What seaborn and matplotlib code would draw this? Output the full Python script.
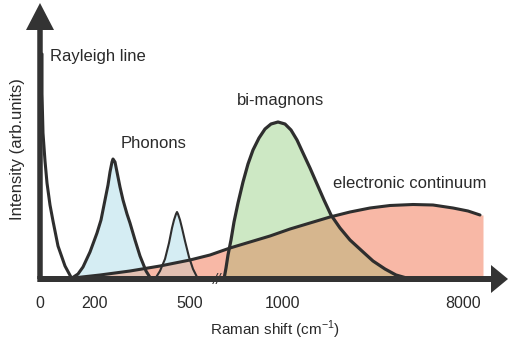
import numpy as np
import matplotlib
matplotlib.use("Agg")
import matplotlib.pyplot as plt
from matplotlib.patches import Polygon
import seaborn as sns

# Positions along the broken Raman-shift axis and the schematic intensities (arb. units)
rayleigh_x = [2, 2, 3, 5, 7, 10, 13, 18, 25, 32]
rayleigh_y = [225, 185, 146, 118, 96, 74, 58, 33, 13, 0]

phonon1_x = [32, 38, 43, 50, 57, 61, 65, 68, 70, 72, 73, 75, 77, 80, 83,
             87, 90, 95, 100, 106, 111]
phonon1_y = [1, 5, 12, 27, 46, 59, 79, 94, 107, 117, 120, 117, 107, 92, 79,
             65, 56, 39, 23, 8, 0]

phonon2_x = [115, 120, 125, 129, 132, 134, 136, 137, 138, 140, 142, 145,
             149, 153, 158]
phonon2_y = [0, 8, 20, 36, 51, 59, 65, 67, 65, 59, 51, 38, 22, 10, 0]

continuum_x = [33, 60, 90, 120, 150, 170, 190, 210, 230, 250, 270, 290, 310,
               330, 350, 373, 393, 413, 428, 440]
continuum_y = [1, 4, 8, 13, 19, 24, 31, 37, 43, 50, 56, 62, 67, 71, 73.5,
               74.5, 74, 71, 68, 64]
continuum_fill_end = 443

bimagnon_x = [184, 186, 188, 191, 194, 198, 203, 208, 213, 219, 225, 231,
              238, 245, 251, 257, 263, 270, 277, 284, 291, 300, 310, 322,
              333, 345, 356, 370]
bimagnon_y = [0, 11, 24, 39, 57, 76, 97, 115, 129, 141, 150, 155, 157, 155,
              149, 139, 126, 111, 95, 79, 64, 51, 39, 28, 18, 10, 4, 0]

tick_pos = [0, 55, 150, 242, 423]
tick_labels = ["0", "200", "500", "1000", "8000"]
break_pos = 173

# Colours
ink = "#2e2e2e"
c_phonon = "#d5edf3"
c_bimagnon = "#cde8c4"
c_continuum = "#f8b8a6"
c_bi_cont = "#d6b68e"
c_ph_cont = "#e2c0b2"

sns.set_theme(style="white")
plt.rcParams["font.family"] = ["Liberation Sans", "DejaVu Sans"]
plt.rcParams["mathtext.fontset"] = "custom"
plt.rcParams["mathtext.rm"] = "Liberation Sans"

fig = plt.figure(figsize=(5.09, 3.51), dpi=100)
ax = fig.add_axes([40 / 509, 72 / 351, 468 / 509, 276 / 351])
ax.set_xlim(0, 468)
ax.set_ylim(0, 276)
for s in ax.spines.values():
    s.set_visible(False)


def poly(xs, ys):
    verts = [(xs[0], 0)] + list(zip(xs, ys)) + [(xs[-1], 0)]
    return Polygon(verts, closed=True, transform=ax.transData)


cx_fill = continuum_x + [continuum_fill_end]
cy_fill = continuum_y + [continuum_y[-1]]

# Filled regions
ax.fill_between(cx_fill, cy_fill, 0, color=c_continuum, lw=0, zorder=1)
for px, py in [(phonon1_x, phonon1_y), (phonon2_x, phonon2_y)]:
    ax.fill_between(px, py, 0, color=c_phonon, lw=0, zorder=2)
    ov = ax.fill_between(cx_fill, cy_fill, 0, color=c_ph_cont, lw=0, zorder=3)
    ov.set_clip_path(poly(px, py))
ax.fill_between(bimagnon_x, bimagnon_y, 0, color=c_bimagnon, lw=0, zorder=2)
ov = ax.fill_between(cx_fill, cy_fill, 0, color=c_bi_cont, lw=0, zorder=3)
ov.set_clip_path(poly(bimagnon_x, bimagnon_y))

# Curves
curves = [
    (continuum_x, continuum_y, 2.2),
    (bimagnon_x, bimagnon_y, 2.3),
    (phonon1_x, phonon1_y, 2.2),
    (phonon2_x, phonon2_y, 1.5),
    (rayleigh_x, rayleigh_y, 2.2),
]
for xs, ys, w in curves:
    sns.lineplot(x=xs, y=ys, ax=ax, color=ink, lw=w, sort=False,
                 estimator=None, zorder=5, solid_joinstyle="round",
                 solid_capstyle="round")

# Axis arrows
ax.arrow(0, 0, 0, 276, width=5.5, head_width=28, head_length=27,
         length_includes_head=True, color="#333333", lw=0, zorder=6,
         clip_on=False)
ax.arrow(-2.7, 0, 470.7, 0, width=6, head_width=28, head_length=17,
         length_includes_head=True, color="#333333", lw=0, zorder=6,
         clip_on=False)
# Axis break mark
ax.text(break_pos + 4, -1, "//", fontsize=11, color="#333333", ha="center",
        va="center", zorder=7, style="italic")

# Ticks and labels
ax.set_xticks(tick_pos)
ax.set_xticklabels(tick_labels)
ax.set_yticks([])
ax.tick_params(axis="x", length=0, pad=12, labelsize=11.5, colors="#2a2a2a")

ax.set_xlabel(r"Raman shift (cm$^{\mathregular{-1}}$)", fontsize=11,
              color="#2a2a2a")
ax.xaxis.set_label_coords((275 - 40) / 468, (279 - 330) / 276)
ax.xaxis.label.set_va("center")
ax.set_ylabel("Intensity (arb.units)", fontsize=12, color="#2a2a2a")
ax.yaxis.set_label_coords((18 - 40) / 468, (279 - 149) / 276)
ax.yaxis.label.set_va("center")

# Annotations
lab = dict(fontsize=12, color="#2a2a2a", ha="left", va="center", zorder=8)
ax.text(10, 222, "Rayleigh line", **lab)
ax.text(81, 136, "Phonons", **lab)
ax.text(197, 178, "bi-magnons", **lab)
ax.text(293, 96, "electronic continuum", **lab)

fig.savefig("out.png", dpi=100)
